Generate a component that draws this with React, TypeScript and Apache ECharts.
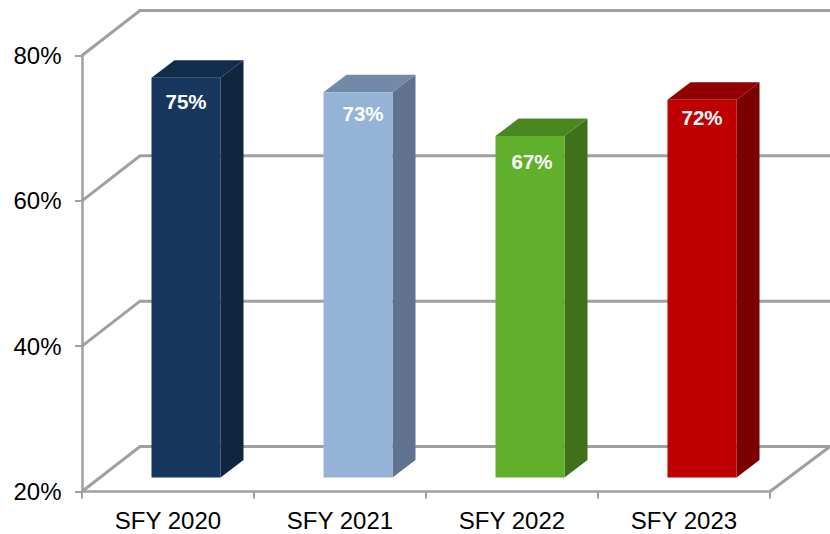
import React, { useEffect, useRef } from "react";
import * as echarts from "echarts";

const categories = ["SFY 2020", "SFY 2021", "SFY 2022", "SFY 2023"];
const values = [75, 73, 67, 72];
const gridTicks = [20, 40, 60, 80];

const frontColors = ["#17375E", "#95B3D7", "#60B02B", "#C00000"];
const topColors = ["#122C4B", "#7389A8", "#4A8722", "#900000"];
const sideColors = ["#10263F", "#5F7390", "#3E7119", "#7A0000"];
const labelShiftX = [0, 5, 2, 0];
const labelShiftY = [23.5, 21.5, 25.5, 17.5];

const FONT = "'Liberation Sans', Arial, sans-serif";
const LINE = "#A0A0A0";
const WALL_DX = 58;
const WALL_DY = 45;
const FLOOR_RIGHT = 60;

export default function App() {
  const ref = useRef<HTMLDivElement>(null);

  useEffect(() => {
    const chart = echarts.init(ref.current!, undefined, { renderer: "svg" });
    chart.setOption({
      animation: false,
      backgroundColor: "#fff",
      grid: { left: 82, right: 60, top: 55.5, bottom: 42.5, containLabel: false },
      xAxis: {
        type: "category",
        data: categories,
        axisLine: { show: true, lineStyle: { color: LINE, width: 2.5 } },
        axisTick: { show: true, length: 7, alignWithLabel: false, lineStyle: { color: LINE, width: 2 } },
        axisLabel: { color: "#000", fontFamily: FONT, fontSize: 24, margin: 17 },
        splitLine: { show: false },
      },
      yAxis: {
        type: "value",
        min: 20,
        max: 80,
        interval: 20,
        axisLine: { show: true, lineStyle: { color: LINE, width: 2.5 } },
        axisTick: { show: true, length: 7, lineStyle: { color: LINE, width: 2 } },
        axisLabel: { color: "#000", fontFamily: FONT, fontSize: 24, margin: 20.5, verticalAlign: "middle", padding: [0, 0, 2, 0], formatter: "{value}%" },
        splitLine: { show: false },
      },
      series: [
        {
          type: "custom",
          clip: false,
          silent: true,
          z: 1,
          coordinateSystem: "cartesian2d",
          data: gridTicks.map((t) => [0, t]),
          encode: { x: 0, y: 1 },
          renderItem: (params: any, api: any) => {
            const y = api.coord([0, api.value(1)])[1];
            const cs = params.coordSys;
            const x0 = cs.x;
            const x1 = cs.x + cs.width;
            const children: any[] = [
              {
                type: "polyline",
                shape: {
                  points: [
                    [x0, y],
                    [x0 + WALL_DX, y - WALL_DY],
                    [x1 + FLOOR_RIGHT, y - WALL_DY],
                  ],
                },
                style: { stroke: LINE, lineWidth: 3, fill: "none" },
              },
            ];
            if (api.value(1) === gridTicks[0]) {
              children.push({
                type: "line",
                shape: { x1, y1: y, x2: x1 + FLOOR_RIGHT, y2: y - WALL_DY },
                style: { stroke: LINE, lineWidth: 3 },
              });
            }
            return { type: "group", children };
          },
        },
        {
          type: "custom",
          clip: false,
          silent: true,
          z: 5,
          coordinateSystem: "cartesian2d",
          data: categories.map((c, i) => [i, values[i]]),
          encode: { x: 0, y: 1 },
          renderItem: (params: any, api: any) => {
            const i = params.dataIndex;
            const top = api.coord([api.value(0), api.value(1)]);
            const base = api.coord([api.value(0), 20]);
            const cx = top[0] + 18;
            const yTop = top[1] - 14;
            const yBot = base[1] - 14;
            const hw = 34.5;
            const dx = 23;
            const dy = 17.5;
            const l = cx - hw;
            const r = cx + hw;
            return {
              type: "group",
              children: [
                {
                  type: "polygon",
                  shape: { points: [[r, yTop], [r + dx, yTop - dy], [r + dx, yBot - dy], [r, yBot]] },
                  style: { fill: sideColors[i] },
                },
                {
                  type: "polygon",
                  shape: { points: [[l, yTop], [l + dx, yTop - dy], [r + dx, yTop - dy], [r, yTop]] },
                  style: { fill: topColors[i] },
                },
                {
                  type: "rect",
                  shape: { x: l, y: yTop, width: r - l, height: yBot - yTop },
                  style: { fill: frontColors[i] },
                },
                {
                  type: "text",
                  x: cx + labelShiftX[i],
                  y: yTop + labelShiftY[i],
                  style: {
                    text: values[i] + "%",
                    fill: "#fff",
                    font: `bold 20.5px ${FONT}`,
                    align: "center",
                    verticalAlign: "middle",
                  },
                },
              ],
            };
          },
        },
      ],
    });
    return () => chart.dispose();
  }, []);

  return <div ref={ref} style={{ position: "absolute", left: 0, top: 0, width: 830, height: 534 }} />;
}
